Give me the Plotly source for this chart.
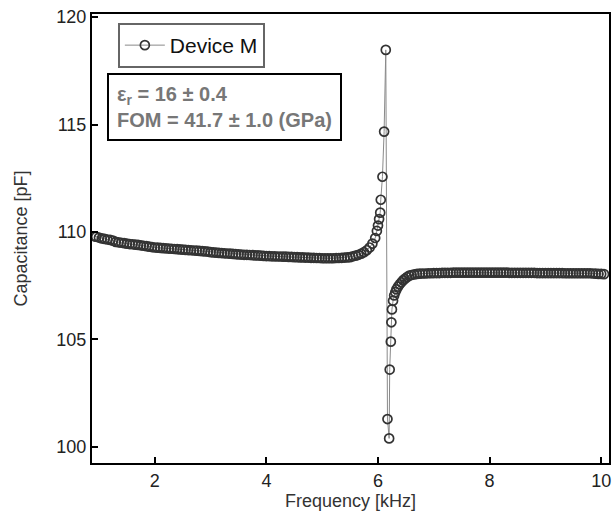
import plotly.graph_objects as go

# ---- data ----
freq_left = [0.92, 0.95, 1.00, 1.05, 1.10, 1.15, 1.20, 1.25, 1.30, 1.35, 1.40, 1.45, 1.50,
             1.55, 1.60, 1.65, 1.70, 1.75, 1.80, 1.85, 1.90, 1.95, 2.00,
             2.05, 2.10, 2.15, 2.20, 2.25, 2.30, 2.35, 2.40, 2.45, 2.50,
             2.55, 2.60, 2.65, 2.70, 2.75, 2.80, 2.85, 2.90, 2.95, 3.00,
             3.05, 3.10, 3.15, 3.20, 3.25, 3.30, 3.35, 3.40, 3.45, 3.50,
             3.55, 3.60, 3.65, 3.70, 3.75, 3.80, 3.85, 3.90, 3.95, 4.00,
             4.05, 4.10, 4.15, 4.20, 4.25, 4.30, 4.35, 4.40, 4.45, 4.50,
             4.55, 4.60, 4.65, 4.70, 4.75, 4.80, 4.85, 4.90, 4.95, 5.00,
             5.05, 5.10, 5.15, 5.20, 5.25, 5.30, 5.35, 5.40, 5.45, 5.50,
             5.55, 5.60, 5.65, 5.70, 5.75, 5.80, 5.85, 5.90, 5.95,
             5.98, 6.00, 6.02, 6.04, 6.05, 6.08, 6.11, 6.14]
cap_left = [109.80, 109.78, 109.74, 109.70, 109.68, 109.65, 109.63, 109.60, 109.54, 109.52, 109.50, 109.48, 109.46,
            109.44, 109.43, 109.41, 109.40, 109.38, 109.36, 109.34, 109.32, 109.30, 109.28,
            109.27, 109.26, 109.25, 109.24, 109.23, 109.22, 109.21, 109.20, 109.19, 109.18,
            109.17, 109.16, 109.15, 109.14, 109.13, 109.12, 109.11, 109.10, 109.09, 109.06,
            109.05, 109.04, 109.03, 109.02, 109.01, 109.00, 108.99, 108.98, 108.97, 108.96,
            108.95, 108.94, 108.94, 108.93, 108.92, 108.91, 108.91, 108.90, 108.89, 108.88,
            108.88, 108.87, 108.87, 108.86, 108.86, 108.85, 108.85, 108.84, 108.84, 108.83,
            108.83, 108.82, 108.82, 108.81, 108.81, 108.80, 108.80, 108.79, 108.79, 108.78,
            108.78, 108.78, 108.78, 108.78, 108.79, 108.79, 108.80, 108.81, 108.82, 108.83,
            108.87, 108.90, 108.94, 108.99, 109.06, 109.15, 109.28, 109.46, 109.72,
            110.05, 110.30, 110.60, 110.90, 111.50, 112.57, 114.67, 118.47]

freq_right = [6.17, 6.20, 6.21, 6.23, 6.24, 6.25, 6.27, 6.29, 6.31, 6.33, 6.36, 6.39, 6.42,
              6.45, 6.48, 6.52, 6.56, 6.60, 6.65, 6.70, 6.75, 6.80,
              6.85, 6.90, 6.95, 7.00, 7.05, 7.10, 7.15, 7.20, 7.25, 7.30,
              7.35, 7.40, 7.45, 7.50, 7.55, 7.60, 7.65, 7.70, 7.75, 7.80,
              7.85, 7.90, 7.95, 8.00, 8.05, 8.10, 8.15, 8.20, 8.25, 8.30,
              8.35, 8.40, 8.45, 8.50, 8.55, 8.60, 8.65, 8.70, 8.75, 8.80,
              8.85, 8.90, 8.95, 9.00, 9.05, 9.10, 9.15, 9.20, 9.25, 9.30,
              9.35, 9.40, 9.45, 9.50, 9.55, 9.60, 9.65, 9.70, 9.75, 9.80,
              9.85, 9.90, 9.95, 10.00, 10.05]
cap_right = [101.30, 100.40, 103.60, 104.90, 105.80, 106.40, 106.80, 107.05, 107.20, 107.33, 107.46, 107.57, 107.66,
             107.75, 107.82, 107.90, 107.97, 108.00, 108.03, 108.05, 108.06, 108.07,
             108.07, 108.08, 108.08, 108.09, 108.09, 108.09, 108.10, 108.10, 108.10, 108.10,
             108.11, 108.11, 108.11, 108.11, 108.11, 108.11, 108.11, 108.11, 108.11, 108.11,
             108.11, 108.11, 108.11, 108.11, 108.11, 108.11, 108.11, 108.11, 108.11, 108.11,
             108.10, 108.10, 108.10, 108.10, 108.10, 108.10, 108.10, 108.10, 108.10, 108.10,
             108.09, 108.09, 108.09, 108.09, 108.09, 108.09, 108.09, 108.09, 108.09, 108.09,
             108.08, 108.08, 108.08, 108.08, 108.08, 108.08, 108.08, 108.08, 108.08, 108.08,
             108.07, 108.06, 108.05, 108.05, 108.04]

frequency = freq_left + freq_right
capacitance = cap_left + cap_right

x_ticks = [2, 4, 6, 8, 10]
y_ticks = [100, 105, 110, 115, 120]
series_name = "Device M"
note_lines = ["ε<sub>r</sub> = 16 ± 0.4", "FOM = 41.7 ± 1.0 (GPa)"]

FONT = "Arial, 'Liberation Sans', sans-serif"

fig = go.Figure()
fig.add_trace(go.Scatter(
    x=frequency, y=capacitance, mode="lines+markers", name=series_name,
    line=dict(color="#8a8a8a", width=1),
    marker=dict(symbol="circle-open", size=9, color="#333333", line=dict(width=1.7, color="#333333")),
))

fig.update_layout(
    width=616, height=513,
    margin=dict(l=92, r=5, t=14, b=50),
    paper_bgcolor="white", plot_bgcolor="white",
    font=dict(family=FONT, size=18, color="#222"),
    showlegend=True,
    legend=dict(
        x=0.05, y=0.98, xanchor="left", yanchor="top",
        bordercolor="#666", borderwidth=2, bgcolor="white",
        font=dict(size=21, color="#111"),
        itemwidth=40, tracegroupgap=0,
    ),
    xaxis=dict(
        range=[0.875, 10.14], tickvals=x_ticks, ticks="inside", ticklen=6, tickwidth=2,
        tickcolor="black", showline=True, linecolor="black", linewidth=2, mirror=True,
        showgrid=False, zeroline=False,
        title=dict(text="Frequency [kHz]", font=dict(size=18, color="#333"), standoff=1),
        tickfont=dict(size=18, color="#222"),
    ),
    yaxis=dict(
        range=[99.255, 120.14], tickvals=y_ticks, ticks="inside", ticklen=6, tickwidth=2,
        tickcolor="black", showline=True, linecolor="black", linewidth=2, mirror=True,
        showgrid=False, zeroline=False,
        title=dict(text="Capacitance [pF]", font=dict(size=18, color="#333"), standoff=24),
        tickfont=dict(size=18, color="#222"),
    ),
)

fig.add_annotation(
    xref="paper", yref="paper", x=0.029, y=0.869, xanchor="left", yanchor="top",
    text="<br>".join("<b>" + s + "</b>" for s in note_lines),
    showarrow=False, align="left",
    font=dict(family=FONT, size=20, color="#777"),
    bordercolor="black", borderwidth=2, borderpad=8, bgcolor="white",
)

fig.write_html(
    "out.html",
    config={"displayModeBar": False},
    post_script="document.body.style.margin='0';document.body.style.overflow='hidden';",
)
